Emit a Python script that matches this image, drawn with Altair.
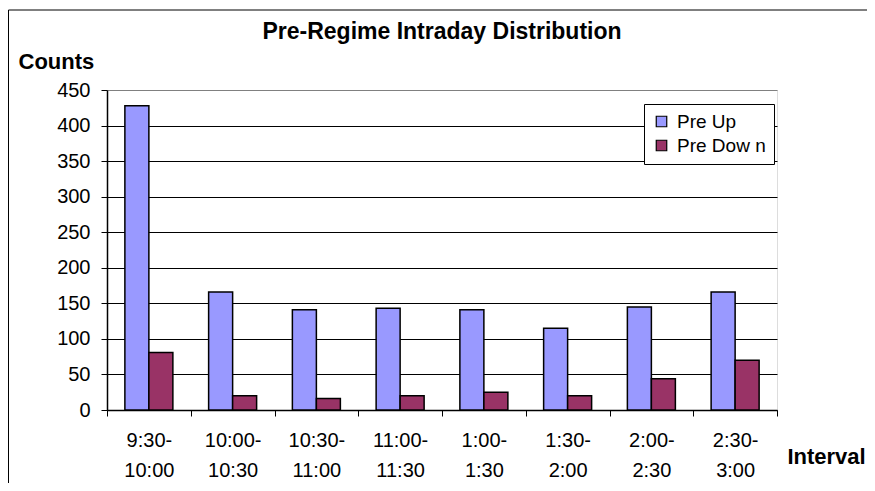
import altair as alt
import pandas as pd

intervals = ["9:30-10:00", "10:00-10:30", "10:30-11:00", "11:00-11:30",
             "1:00-1:30", "1:30-2:00", "2:00-2:30", "2:30-3:00"]
pre_up = [428, 166, 141, 143, 141, 115, 145, 166]
pre_down = [81, 20, 16, 20, 25, 20, 44, 70]
series = ["Pre Up", "Pre Dow n"]
colors = ["#9999FF", "#993366"]
y_ticks = [0, 50, 100, 150, 200, 250, 300, 350, 400, 450]

rows = []
for i, iv in enumerate(intervals):
    rows.append({"Interval": iv, "Series": series[0], "Counts": pre_up[i]})
    rows.append({"Interval": iv, "Series": series[1], "Counts": pre_down[i]})
df = pd.DataFrame(rows)

FONT = "Liberation Sans, Arial, sans-serif"

bars = alt.Chart(df).mark_bar(stroke="black", strokeWidth=1.5).encode(
    x=alt.X("Interval:N", sort=intervals,
            scale=alt.Scale(paddingInner=0, paddingOuter=0),
            axis=alt.Axis(
                title="Interval", titleFont=FONT, titleFontSize=22, titleFontWeight="bold",
                titleAngle=0, titleAlign="center", titleBaseline="middle",
                titleX=719, titleY=46, titleColor="black",
                labelAngle=0, labelFont=FONT, labelFontSize=20, labelColor="black",
                labelLineHeight=30, labelPadding=14, labelBaseline="top",
                labelExpr="[slice(datum.label, 0, indexof(datum.label, '-') + 1), slice(datum.label, indexof(datum.label, '-') + 1)]",
                tickBand="extent", tickColor="black", tickSize=6, tickWidth=1,
                domainColor="black", domainWidth=1.5, grid=False)),
    xOffset=alt.XOffset("Series:N", sort=series,
                        scale=alt.Scale(paddingInner=0, paddingOuter=0.745)),
    y=alt.Y("Counts:Q", scale=alt.Scale(domain=[0, 450], nice=False),
            axis=alt.Axis(
                values=y_ticks, title="Counts", titleFont=FONT, titleFontSize=22,
                titleFontWeight="bold", titleAngle=0, titleAlign="left",
                titleBaseline="middle", titleX=-89, titleY=-29, titleColor="black",
                labelFont=FONT, labelFontSize=20, labelColor="black", labelPadding=11,
                tickColor="black", tickSize=6, tickWidth=1,
                domainColor="black", domainWidth=1.5,
                grid=True,
                gridColor={"condition": {"test": "datum.value == 450", "value": "#808080"},
                           "value": "black"},
                gridWidth=1.2)),
    color=alt.Color("Series:N", sort=series,
                    scale=alt.Scale(domain=series, range=colors),
                    legend=alt.Legend(
                        title=None, orient="none", legendX=537, legendY=14,
                        fillColor="white", strokeColor="black", padding=8,
                        labelFont=FONT, labelFontSize=19, labelColor="black",
                        symbolType="square", symbolSize=110, symbolStrokeColor="black",
                        symbolStrokeWidth=1.2, symbolOpacity=1, rowPadding=4,
                        labelOffset=6)),
)

frame_v = alt.Chart(alt.Data(values=[{}])).mark_rule(color="black", strokeWidth=1).encode(
    x=alt.value(-98.5), y=alt.value(-80), y2=alt.value(420))
frame_h = alt.Chart(alt.Data(values=[{}])).mark_rule(color="black", strokeWidth=1).encode(
    x=alt.value(-98.5), x2=alt.value(800), y=alt.value(-80))

chart = alt.layer(bars, frame_v, frame_h).properties(
    width=670, height=320,
    autosize=alt.AutoSizeParams(type="none"),
    padding={"left": 99, "top": 82, "right": 90, "bottom": 73},
    title=alt.TitleParams("Pre-Regime Intraday Distribution", font=FONT, fontSize=23,
                          fontWeight="bold", color="black", anchor="middle",
                          offset=8, dy=42),
).configure_view(
    fill="#C0C0C0", stroke="#808080", strokeWidth=1.5
).configure(background="white")

chart.save("out.html", embed_options={"renderer": "svg", "actions": False})
